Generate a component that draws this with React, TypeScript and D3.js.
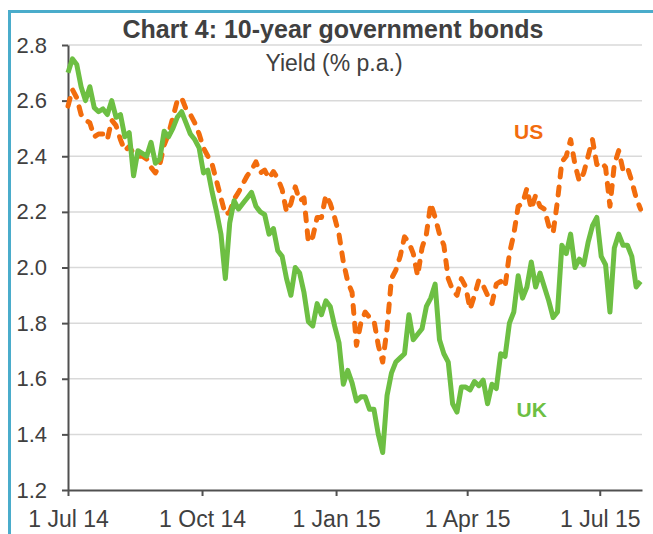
import React, { useEffect, useRef } from 'react';
import * as d3 from 'd3';

const dates = [
  '2014-07-01','2014-07-04','2014-07-07','2014-07-10','2014-07-13','2014-07-16','2014-07-19','2014-07-22','2014-07-25','2014-07-28','2014-07-31',
  '2014-08-03','2014-08-06','2014-08-09','2014-08-12','2014-08-15','2014-08-18','2014-08-21','2014-08-24','2014-08-27','2014-08-30',
  '2014-09-02','2014-09-05','2014-09-08','2014-09-11','2014-09-14','2014-09-17','2014-09-20','2014-09-23','2014-09-26','2014-09-29',
  '2014-10-02','2014-10-05','2014-10-08','2014-10-11','2014-10-14','2014-10-17','2014-10-20','2014-10-23','2014-10-26','2014-10-29',
  '2014-11-01','2014-11-04','2014-11-07','2014-11-10','2014-11-13','2014-11-16','2014-11-19','2014-11-22','2014-11-25','2014-11-28',
  '2014-12-01','2014-12-04','2014-12-07','2014-12-10','2014-12-13','2014-12-16','2014-12-19','2014-12-22','2014-12-25','2014-12-28','2014-12-31',
  '2015-01-03','2015-01-06','2015-01-09','2015-01-12','2015-01-15','2015-01-18','2015-01-21','2015-01-24','2015-01-27','2015-01-30',
  '2015-02-02','2015-02-05','2015-02-08','2015-02-11','2015-02-14','2015-02-17','2015-02-20','2015-02-23','2015-02-26',
  '2015-03-01','2015-03-04','2015-03-07','2015-03-10','2015-03-13','2015-03-16','2015-03-19','2015-03-22','2015-03-25','2015-03-28','2015-03-31',
  '2015-04-03','2015-04-06','2015-04-09','2015-04-12','2015-04-15','2015-04-18','2015-04-21','2015-04-24','2015-04-27','2015-04-30',
  '2015-05-03','2015-05-06','2015-05-09','2015-05-12','2015-05-15','2015-05-18','2015-05-21','2015-05-24','2015-05-27','2015-05-30',
  '2015-06-02','2015-06-05','2015-06-08','2015-06-11','2015-06-14','2015-06-17','2015-06-20','2015-06-23','2015-06-26','2015-06-29',
  '2015-07-02','2015-07-05','2015-07-08','2015-07-11','2015-07-14','2015-07-17','2015-07-20','2015-07-23','2015-07-26','2015-07-29',
];

const usYield = [
  2.58, 2.64, 2.61, 2.55, 2.53, 2.52, 2.47, 2.48, 2.48, 2.46, 2.53,
  2.51, 2.46, 2.42, 2.435, 2.41, 2.40, 2.40, 2.39, 2.36, 2.34,
  2.37, 2.44, 2.48, 2.54, 2.60, 2.61, 2.57, 2.55, 2.52, 2.48,
  2.43, 2.40, 2.37, 2.31, 2.25, 2.19, 2.20, 2.245, 2.27, 2.30,
  2.33, 2.35, 2.38, 2.34, 2.35, 2.32, 2.345, 2.32, 2.28, 2.20,
  2.23, 2.29, 2.24, 2.25, 2.09, 2.11, 2.18, 2.18, 2.26, 2.23, 2.18,
  2.12, 2.02, 1.95, 1.91, 1.72, 1.80, 1.84, 1.82, 1.81, 1.72,
  1.66, 1.78, 1.96, 1.99, 2.04, 2.11, 2.09, 2.05, 1.97,
  2.07, 2.12, 2.23, 2.18, 2.12, 2.08, 1.96, 1.92, 1.90, 1.96, 1.93,
  1.85, 1.90, 1.955, 1.935, 1.90, 1.87, 1.94, 1.95, 1.93, 2.05,
  2.12, 2.22, 2.23, 2.285, 2.21, 2.26, 2.22, 2.21, 2.15, 2.125,
  2.24, 2.38, 2.40, 2.46, 2.37, 2.31, 2.34, 2.40, 2.46, 2.37,
  2.38, 2.36, 2.22, 2.37, 2.42, 2.35, 2.36, 2.31, 2.25, 2.21,
];

const ukYield = [
  2.70, 2.75, 2.73, 2.65, 2.60, 2.65, 2.575, 2.56, 2.57, 2.55, 2.60,
  2.54, 2.55, 2.47, 2.485, 2.33, 2.42, 2.41, 2.40, 2.45, 2.375,
  2.39, 2.49, 2.47, 2.50, 2.54, 2.56, 2.52, 2.48, 2.46, 2.43,
  2.34, 2.35, 2.27, 2.20, 2.12, 1.96, 2.16, 2.24, 2.21, 2.23,
  2.25, 2.27, 2.22, 2.20, 2.19, 2.12, 2.14, 2.06, 2.04, 1.96,
  1.90, 2.00, 1.98, 1.91, 1.805, 1.79, 1.87, 1.83, 1.88, 1.86, 1.79,
  1.73, 1.58, 1.63, 1.585, 1.52, 1.535, 1.535, 1.49, 1.49, 1.40,
  1.335, 1.54, 1.62, 1.66, 1.675, 1.69, 1.83, 1.74, 1.76,
  1.78, 1.86, 1.89, 1.94, 1.74, 1.69, 1.66, 1.51, 1.48, 1.57, 1.57,
  1.56, 1.59, 1.575, 1.595, 1.51, 1.58, 1.565, 1.69, 1.68, 1.80,
  1.84, 1.97, 1.89, 1.93, 2.02, 1.93, 1.98, 1.93, 1.88, 1.82,
  1.84, 2.08, 2.05, 2.12, 2.00, 2.03, 2.01, 2.09, 2.15, 2.18,
  2.04, 2.01, 1.84, 2.07, 2.12, 2.08, 2.08, 2.04, 1.93, 1.95,
];

const yTicks = [1.2, 1.4, 1.6, 1.8, 2.0, 2.2, 2.4, 2.6, 2.8];
const xTicks = ['2014-07-01', '2014-10-01', '2015-01-01', '2015-04-01', '2015-07-01'];
const xDomain = ['2014-07-01', '2015-07-30'];

const US_COLOR = '#f26c0d';
const UK_COLOR = '#6dbf43';
const TEXT = '#404040';

export default function App() {
  const svgRef = useRef<SVGSVGElement>(null);

  useEffect(() => {
    const w = 653;
    const h = 534;
    const parse = d3.timeParse('%Y-%m-%d');
    const svg = d3.select(svgRef.current);
    svg.selectAll('*').remove();
    svg.attr('width', w).attr('height', h)
      .style('font-family', 'Liberation Sans, Arial, sans-serif');

    const x = d3.scaleTime()
      .domain(xDomain.map(d => parse(d) as Date))
      .range([68, 642]);
    const y = d3.scaleLinear().domain([1.2, 2.8]).range([490, 45]);

    // outer frame
    svg.append('path')
      .attr('d', `M9.5,${h} V11.5 H${w}`)
      .attr('fill', 'none')
      .attr('stroke', '#4aaccb')
      .attr('stroke-width', 3);

    // gridlines
    svg.append('g')
      .selectAll('line')
      .data(yTicks.slice(1))
      .enter()
      .append('line')
      .attr('x1', 68)
      .attr('x2', 642)
      .attr('y1', d => y(d))
      .attr('y2', d => y(d))
      .attr('stroke', '#d9d9d9')
      .attr('stroke-width', 1.5);

    const yAxis = d3.axisLeft(y)
      .tickValues(yTicks)
      .tickFormat(d3.format('.1f'))
      .tickSize(6)
      .tickSizeOuter(0)
      .tickPadding(15);
    const gy = svg.append('g').attr('transform', 'translate(68,0)').call(yAxis);
    gy.select('.domain').attr('stroke', '#505050').attr('stroke-width', 2);
    gy.selectAll('.tick line').attr('stroke', '#505050').attr('stroke-width', 2);
    gy.selectAll('.tick text')
      .attr('fill', TEXT)
      .style('font-size', '22px');

    const xAxis = d3.axisBottom(x)
      .tickValues(xTicks.map(d => parse(d) as Date))
      .tickFormat(d3.timeFormat('%-d %b %y') as any)
      .tickSize(6)
      .tickSizeOuter(0);
    const gx = svg.append('g').attr('transform', 'translate(0,490)').call(xAxis);
    gx.select('.domain').attr('stroke', '#505050').attr('stroke-width', 2);
    gx.selectAll('.tick line').attr('stroke', '#505050').attr('stroke-width', 2);
    gx.selectAll('.tick text')
      .attr('fill', TEXT)
      .attr('y', 36.5)
      .attr('dy', 0)
      .style('font-size', '23px');

    const line = d3.line<number>()
      .x((d, i) => x(parse(dates[i]) as Date))
      .y(d => y(d));

    svg.append('path')
      .datum(usYield)
      .attr('fill', 'none')
      .attr('stroke', US_COLOR)
      .attr('stroke-width', 5)
      .attr('stroke-dasharray', '8,10')
      .attr('stroke-linecap', 'round')
      .attr('stroke-linejoin', 'round')
      .attr('d', line);

    svg.append('path')
      .datum(ukYield)
      .attr('fill', 'none')
      .attr('stroke', UK_COLOR)
      .attr('stroke-width', 5)
      .attr('stroke-linejoin', 'round')
      .attr('d', line);

    svg.append('text')
      .attr('x', 333)
      .attr('y', 37.5)
      .attr('text-anchor', 'middle')
      .attr('fill', TEXT)
      .style('font-size', '25px')
      .style('font-weight', 'bold')
      .text('Chart 4: 10-year government bonds');

    svg.append('text')
      .attr('x', 334)
      .attr('y', 71)
      .attr('text-anchor', 'middle')
      .attr('fill', TEXT)
      .style('font-size', '23px')
      .text('Yield (% p.a.)');

    svg.append('text')
      .attr('x', 514)
      .attr('y', 139)
      .attr('fill', US_COLOR)
      .style('font-size', '21px')
      .style('font-weight', 'bold')
      .text('US');

    svg.append('text')
      .attr('x', 516.5)
      .attr('y', 416.5)
      .attr('fill', UK_COLOR)
      .style('font-size', '21px')
      .style('font-weight', 'bold')
      .text('UK');
  }, []);

  return (
    <div style={{ position: 'absolute', left: 0, top: 0 }}>
      <svg ref={svgRef} style={{ display: 'block' }} />
    </div>
  );
}
